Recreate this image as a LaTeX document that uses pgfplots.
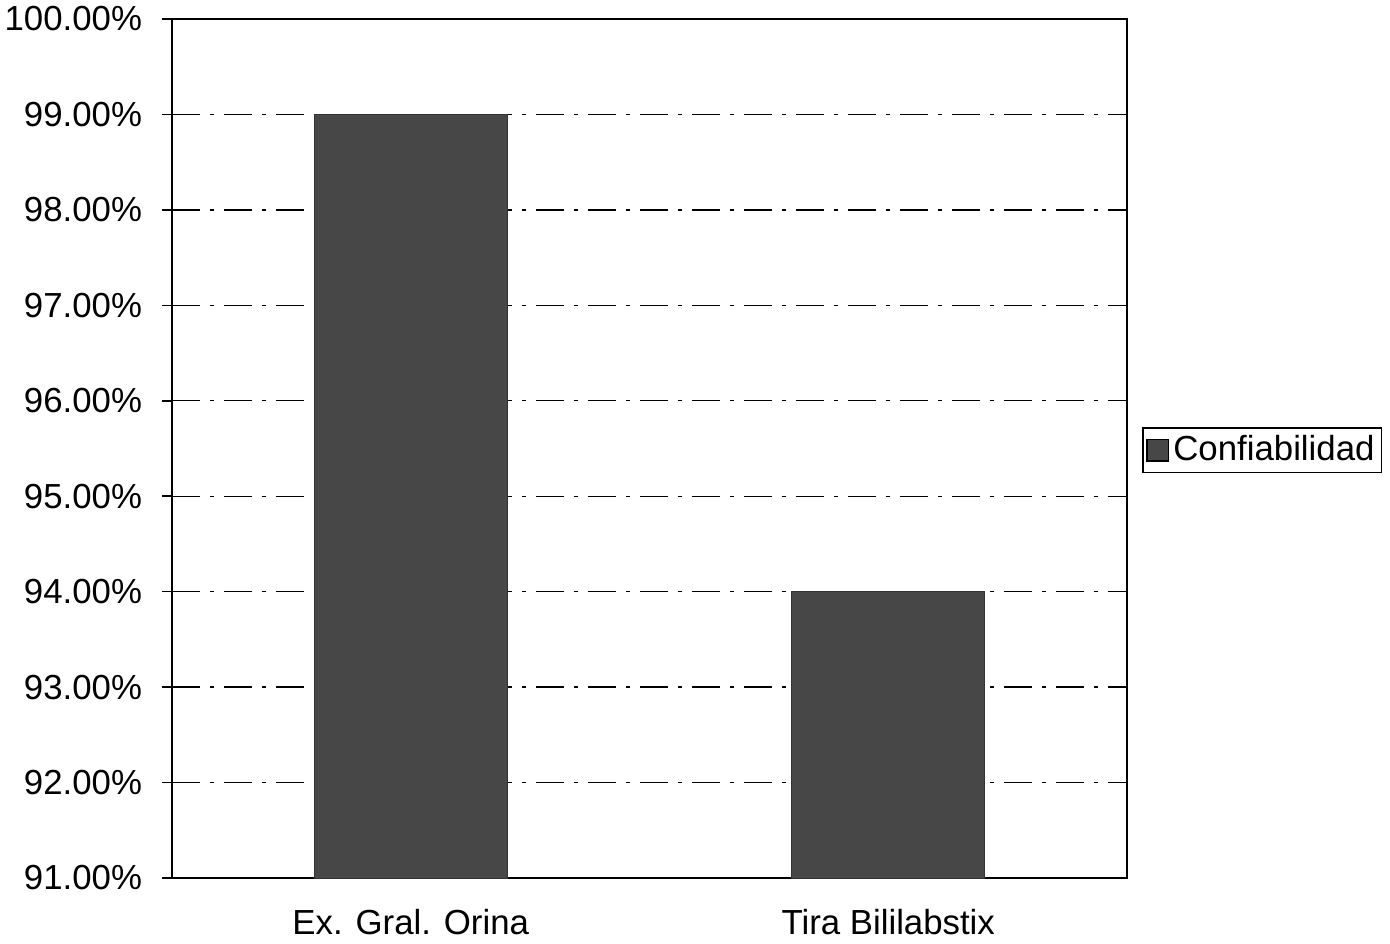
\documentclass[border=0pt]{standalone}
\usepackage{fontspec}
\setmainfont{Liberation Sans}
\usepackage{pgfplots}
\pgfplotsset{compat=1.18}
\begin{document}
\fontsize{17.4pt}{21pt}\selectfont
\begin{tikzpicture}
\useasboundingbox (0,0) rectangle (695pt,471.5pt);
\begin{axis}[
  at={(86pt,32.5pt)}, anchor=south west,
  scale only axis, width=477.5pt, height=429.5pt,
  xmin=-0.5, xmax=1.5, ymin=91, ymax=100,
  ytick={91,92,...,100},
  xtick={0,1},
  ytick pos=left, xtick pos=bottom,
  xticklabels={Ex. Gral. Orina, Tira Bililabstix},
  x tick style={draw=none},
  extra x ticks={-0.5,0.5,1.5},
  extra x tick labels={},
  extra x tick style={grid=none, tick style={draw=black, line width=0.8pt}},
  tick align=outside, major tick length=5pt,
  y tick style={draw=black, line width=0.8pt},
  axis line style={line width=0.9pt},
  ymajorgrids, grid style={black, line width=0.7pt, dash pattern=on 14pt off 5pt on 2pt off 5pt},
  /pgf/number format/assume math mode=true,
  yticklabel={\pgfmathprintnumber[fixed,fixed zerofill,precision=2]{\tick}\%},
  ticklabel style={font=\fontsize{17.4pt}{21pt}\selectfont},
  yticklabel style={xshift=-4pt},
  xticklabel style={yshift=-4.5pt},
  ybar, bar width=96.5pt,
  legend style={at={(axis description cs:1.0157,0.498)}, anchor=west, draw=black, line width=0.9pt,
    font=\fontsize{17.4pt}{21pt}\selectfont, inner sep=1.5pt},
  legend image code/.code={\draw[fill=black!72, draw=black] (0cm,-0.19cm) rectangle (0.38cm,0.19cm);},
]
\addplot[fill=black!72, draw=black!80] coordinates {(0,99) (1,94)};
\addlegendentry{Confiabilidad}
\end{axis}
\end{tikzpicture}
\end{document}
